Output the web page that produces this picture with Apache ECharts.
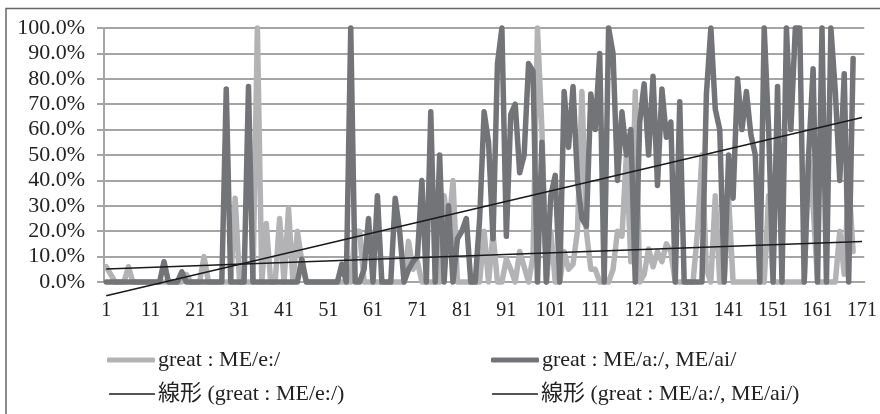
<!DOCTYPE html>
<html>
	<head>
		<meta charset="UTF-8">
		<title>great</title>
		<style type="text/css">
			* { margin: 0px; padding: 0px; }
			body { background: #fff; }
			#container { width: 880px; height: 414px; }
		</style>
	</head>
	<body>
		<div id="container"></div>
		<script src="https://cdn.jsdelivr.net/npm/echarts@6/dist/echarts.min.js"></script>
		<script>
			var font = '"Liberation Serif", "Noto Sans CJK JP", serif';

			var categories = [];
			for(var i = 1; i <= 171; i++) {
				categories.push(String(i));
			}

			var nameE = 'great : ME/e:/';
			var nameA = 'great : ME/a:/, ME/ai/';
			var nameTrendE = '線形 (great : ME/e:/)';
			var nameTrendA = '線形 (great : ME/a:/, ME/ai/)';

			var valuesE = [
				6, 3, 0, 0, 0, 6, 0, 0, 0, 0,
				0, 0, 0, 0, 0, 0, 0, 0, 3, 0,
				0, 0, 10, 0, 0, 0, 0, 0, 0, 33,
				0, 0, 0, 0, 100, 0, 23, 0, 0, 25,
				0, 29, 0, 20, 8, 0, 0, 0, 0, 0,
				0, 0, 0, 0, 0, 0, 20, 20, 0, 0,
				0, 0, 0, 0, 0, 0, 0, 0, 16, 5,
				8, 0, 0, 0, 0, 0, 34, 20, 40, 0,
				0, 0, 0, 0, 0, 20, 0, 19, 0, 0,
				9, 5, 0, 12, 6, 0, 10, 100, 60, 0,
				20, 0, 0, 12, 5, 7, 20, 75, 20, 5,
				5, 0, 0, 0, 5, 20, 18, 50, 8, 75,
				0, 3, 13, 6, 12, 8, 15, 12, 0, 0,
				0, 0, 0, 20, 50, 5, 0, 34, 0, 0,
				33, 0, 0, 0, 0, 0, 0, 0, 0, 34,
				0, 0, 0, 0, 0, 0, 0, 0, 50, 30,
				0, 0, 0, 0, 0, 20, 3, 40, 12, null, null
			];

			var valuesA = [
				0, 0, 0, 0, 0, 0, 0, 0, 0, 0,
				0, 0, 0, 8, 0, 0, 0, 4, 0, 0,
				0, 0, 0, 0, 0, 0, 0, 76, 0, 0,
				0, 0, 77, 0, 0, 0, 0, 0, 0, 0,
				0, 0, 0, 0, 9, 0, 0, 0, 0, 0,
				0, 0, 0, 7, 0, 100, 0, 0, 5, 25,
				0, 34, 0, 0, 0, 33, 20, 0, 5, 8,
				10, 40, 0, 67, 0, 50, 0, 30, 0, 17,
				20, 25, 0, 0, 25, 67, 55, 17, 86, 100,
				18, 66, 70, 43, 50, 86, 83, 0, 55, 0,
				34, 42, 0, 75, 53, 77, 40, 25, 22, 74,
				60, 90, 0, 100, 90, 40, 67, 50, 60, 0,
				63, 78, 50, 81, 38, 76, 57, 63, 0, 71,
				0, 0, 0, 0, 0, 74, 100, 68, 60, 0,
				50, 33, 80, 60, 75, 58, 50, 0, 100, 60,
				0, 77, 0, 100, 60, 100, 100, 0, 50, 84,
				0, 100, 0, 100, 75, 40, 82, 0, 88, null, null
			];

			// 近似線は両端だけ読み取り
			var trendE = [5.1];
			var trendA = [-5.4];
			trendE[170] = 15.9;
			trendA[170] = 64.8;

			function legendItem(name, left, top, width, height, color) {
				return {
					data: [{ name: name, icon: 'roundRect', itemStyle: { color: color } }],
					left: left,
					top: top,
					itemWidth: width,
					itemHeight: height,
					itemGap: 0,
					padding: 0,
					textStyle: {
						fontFamily: font,
						fontSize: 22,
						color: '#222',
						lineHeight: 26,
						padding: [0, 0, 0, -2]
					}
				};
			}

			var dom = document.getElementById('container');
			var myChart = echarts.init(dom);
			myChart.setOption({
				animation: false,
				backgroundColor: '#fff',
				graphic: [{
					type: 'rect',
					shape: { x: 6, y: 8.5, width: 900, height: 420 },
					style: { fill: 'none', stroke: '#666', lineWidth: 1.5 },
					silent: true
				}],
				grid: {
					left: 104,
					right: 13,
					top: 28,
					bottom: 132
				},
				legend: [
					legendItem(nameE, 107, 347, 48, 5, '#b3b3b5'),
					legendItem(nameA, 491, 347, 48, 5, '#737477'),
					legendItem(nameTrendE, 109, 381, 46, 1.5, '#1a1a1a'),
					legendItem(nameTrendA, 492, 381, 46, 1.5, '#1a1a1a')
				],
				xAxis: {
					type: 'category',
					data: categories,
					boundaryGap: true,
					axisLine: { onZero: false, lineStyle: { color: '#a5a5a5', width: 2 } },
					axisTick: { interval: 0, length: 6, lineStyle: { color: '#a5a5a5', width: 1 } },
					axisLabel: {
						interval: 9,
						margin: 19,
						fontFamily: font,
						fontSize: 20,
						color: '#222'
					}
				},
				yAxis: {
					type: 'value',
					min: 0,
					max: 100,
					interval: 10,
					axisLine: { show: true, lineStyle: { color: '#a5a5a5', width: 2 } },
					axisTick: { show: true, length: 7, lineStyle: { color: '#a5a5a5', width: 2 } },
					splitLine: { lineStyle: { color: '#a5a5a5', width: 2 } },
					axisLabel: {
						margin: 19,
						fontFamily: font,
						fontSize: 22,
						color: '#222',
						formatter: function(v) {
							return v.toFixed(1) + '%';
						}
					}
				},
				series: [{
					name: nameE,
					type: 'line',
					data: valuesE,
					symbol: 'none',
					clip: false,
					itemStyle: { color: '#b3b3b5' },
					lineStyle: { color: '#b3b3b5', width: 5.5, join: 'round', cap: 'round' }
				}, {
					name: nameA,
					type: 'line',
					data: valuesA,
					symbol: 'none',
					clip: false,
					itemStyle: { color: '#737477' },
					lineStyle: { color: '#737477', width: 5.5, join: 'round', cap: 'round' }
				}, {
					name: nameTrendE,
					type: 'line',
					data: trendE,
					connectNulls: true,
					symbol: 'none',
					clip: false,
					itemStyle: { color: '#1a1a1a' },
					lineStyle: { color: '#1a1a1a', width: 1.5 }
				}, {
					name: nameTrendA,
					type: 'line',
					data: trendA,
					connectNulls: true,
					symbol: 'none',
					clip: false,
					itemStyle: { color: '#1a1a1a' },
					lineStyle: { color: '#1a1a1a', width: 1.5 }
				}]
			});
		</script>
	</body>
</html>
